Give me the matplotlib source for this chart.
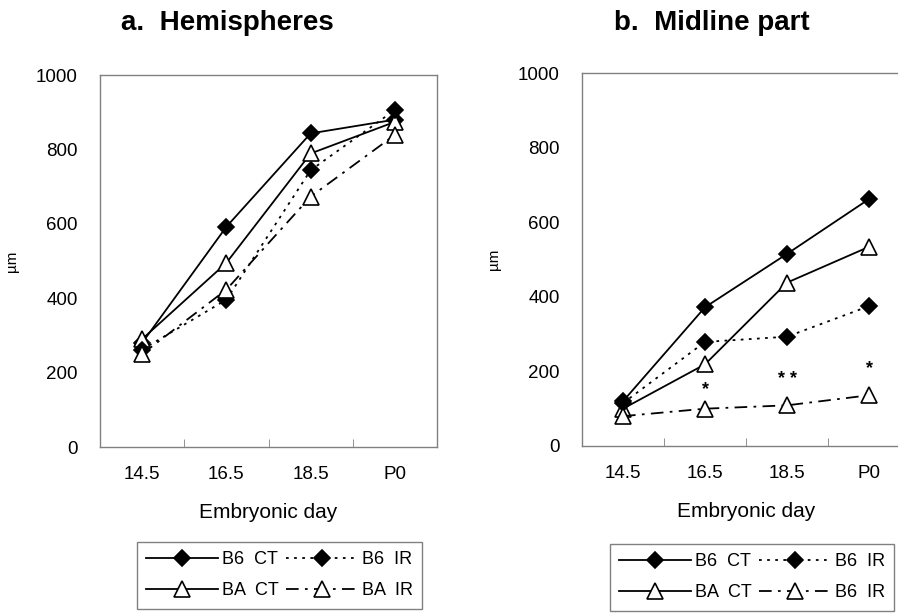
import matplotlib
matplotlib.use('Agg')
import matplotlib.pyplot as plt

plt.rcParams['font.family'] = ['Liberation Sans', 'DejaVu Sans']

days = ['14.5', '16.5', '18.5', 'P0']

# a. Hemispheres (um)
hemi_b6_ct = [280, 592, 843, 880]
hemi_ba_ct = [290, 495, 789, 874]
hemi_b6_ir = [262, 396, 744, 906]
hemi_ba_ir = [250, 423, 673, 839]

# b. Midline part (um)
mid_b6_ct = [120, 372, 515, 662]
mid_ba_ct = [100, 219, 438, 534]
mid_b6_ir = [115, 279, 293, 375]
mid_ba_ir = [80, 100, 109, 136]

star_labels = ['*', '* *', '*']
star_days = [1, 2, 3]
star_vals = [150, 178, 208]

labels_a = ['B6  CT', 'BA  CT', 'B6  IR', 'BA  IR']
labels_b = ['B6  CT', 'BA  CT', 'B6  IR', 'B6  IR']

W, H = 898, 613
fig = plt.figure(figsize=(W / 100, H / 100), dpi=100)

ax_a = fig.add_axes([100 / W, 1 - 447 / H, 337 / W, 372 / H])
ax_b = fig.add_axes([582 / W, 1 - 446 / H, 328 / W, 373 / H])

styles = [
    dict(ls='-', marker='D', mfc='black', mec='black', ms=8),
    dict(ls='-', marker='^', mfc='white', mec='black', ms=11),
    dict(ls=(0, (1.5, 3)), marker='D', mfc='black', mec='black', ms=8),
    dict(ls=(0, (7, 3.5, 1.5, 3.5)), marker='^', mfc='white', mec='black', ms=11),
]


def draw(ax, series, labels):
    x = range(len(days))
    handles = []
    for ys, st, lab in zip(series, styles, labels):
        h, = ax.plot(x, ys, color='black', lw=1.3, mew=1.2, label=lab, **st)
        handles.append(h)
    ax.set_xlim(-0.5, 3.5)
    ax.set_ylim(0, 1000)
    ax.set_yticks([0, 200, 400, 600, 800, 1000])
    ax.set_xticks(list(x))
    ax.set_xticklabels(days)
    ax.set_xticks([0.5, 1.5, 2.5], minor=True)
    ax.tick_params(axis='x', which='major', length=0, pad=14, labelsize=13.5)
    ax.tick_params(axis='x', which='minor', direction='in', length=6, color='#808080')
    ax.tick_params(axis='y', length=0, pad=16, labelsize=13.5)
    for s in ax.spines.values():
        s.set_color('#808080')
        s.set_linewidth(1.0)
    ax.set_xlabel('Embryonic day', fontsize=15, labelpad=14)
    ax.set_ylabel('µm', fontsize=11, labelpad=12)
    return handles


h_a = draw(ax_a, [hemi_b6_ct, hemi_ba_ct, hemi_b6_ir, hemi_ba_ir], labels_a)
h_b = draw(ax_b, [mid_b6_ct, mid_ba_ct, mid_b6_ir, mid_ba_ir], labels_b)

for lab, d, v in zip(star_labels, star_days, star_vals):
    ax_b.text(d, v, lab, ha='center', va='center', fontsize=13, fontweight='bold')

fig.text(227 / W, 1 - 23 / H, 'a.  Hemispheres', ha='center', va='center',
         fontsize=20, fontweight='bold')
fig.text(712 / W, 1 - 23 / H, 'b.  Midline part', ha='center', va='center',
         fontsize=20, fontweight='bold')

for handles, anchor in [(h_a, (137 / W, 1 - 542 / H)), (h_b, (610 / W, 1 - 544 / H))]:
    leg = fig.legend(handles=handles, loc='upper left', bbox_to_anchor=anchor,
                     ncol=2, fontsize=13, handlelength=4.0, handletextpad=0.2,
                     columnspacing=0.4, borderpad=0.5, labelspacing=0.8,
                     fancybox=False, framealpha=1, borderaxespad=0)
    leg.get_frame().set_edgecolor('#808080')
    leg.get_frame().set_linewidth(1.0)

fig.savefig('out.png', dpi=100)
